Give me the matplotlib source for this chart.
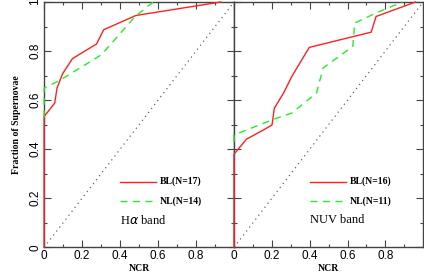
import matplotlib
matplotlib.use("Agg")
import matplotlib.pyplot as plt
from matplotlib.ticker import MultipleLocator

# Halpha band
ha_bl_x = [0.0, 0.0, 0.056, 0.068, 0.097, 0.149, 0.276, 0.314, 0.483, 0.93]
ha_bl_y = [0.0, 0.533, 0.588, 0.649, 0.707, 0.769, 0.829, 0.887, 0.945, 1.0]
ha_nl_x = [0.0, 0.0, 0.079, 0.302, 0.477, 0.574]
ha_nl_y = [0.53, 0.649, 0.679, 0.785, 0.939, 1.0]
# NUV band
nuv_bl_x = [0.0, 0.0, 0.066, 0.157, 0.201, 0.213, 0.262, 0.305, 0.398, 0.725, 0.751, 0.96]
nuv_bl_y = [0.0, 0.38, 0.441, 0.479, 0.499, 0.567, 0.629, 0.696, 0.815, 0.877, 0.941, 1.0]
nuv_nl_x = [0.0, 0.0, 0.209, 0.305, 0.436, 0.471, 0.628, 0.634, 0.637, 0.751, 0.89]
nuv_nl_y = [0.43, 0.458, 0.522, 0.547, 0.629, 0.731, 0.819, 0.873, 0.914, 0.955, 1.0]

labels_ha = ["BL(N=17)", "NL(N=14)", r"H$\alpha$ band"]
labels_nuv = ["BL(N=16)", "NL(N=11)", "NUV band"]
xticks = [0, 0.2, 0.4, 0.6, 0.8]
xticklabels = ["0", "0.2", "0.4", "0.6", "0.8"]
yticks = [0, 0.2, 0.4, 0.6, 0.8, 1.0]
yticklabels = ["0", "0.2", "0.4", "0.6", "0.8", "1"]

RED = "#ff2020"
GREEN = "#22ee22"
SPINE = "#444444"

fig = plt.figure(figsize=(4.24, 2.74), dpi=100)
axL = fig.add_axes([0.104, 0.0974, 0.448, 0.8953])
axR = fig.add_axes([0.552, 0.0974, 0.446, 0.8953])

serif = "Liberation Serif"
sans = "Liberation Sans"

def setup(ax, data, labels, showy):
    bx, by, nx, ny = data
    ax.plot([0, 1], [0, 1], color="#666666", lw=0.9, ls=(0, (1, 3)))
    ax.plot(bx, by, color=RED, lw=1.0, zorder=4, clip_on=False)
    ax.plot(nx, ny, color=GREEN, lw=1.0, ls=(0, (5, 4)), zorder=4, clip_on=False)
    ax.set_xlim(0, 1)
    ax.set_ylim(0, 1)
    ax.set_xticks(xticks)
    ax.set_xticklabels(xticklabels, fontfamily=sans, fontsize=8.5)
    ax.set_yticks(yticks)
    if showy:
        ax.set_yticklabels(yticklabels, fontfamily=sans, fontsize=8.5, rotation=90, va="center")
    else:
        ax.set_yticklabels([])
    ax.xaxis.set_minor_locator(MultipleLocator(0.1))
    ax.yaxis.set_minor_locator(MultipleLocator(0.1))
    ax.tick_params(which="both", direction="in", top=True, right=True, color=SPINE, width=0.8, pad=2)
    ax.tick_params(which="major", length=5)
    ax.tick_params(which="minor", length=2.5)
    for s in ax.spines.values():
        s.set_color(SPINE)
        s.set_linewidth(1.0)
    ax.set_xlabel("NCR", fontfamily=serif, fontweight="bold", fontsize=7, labelpad=1.5)
    # legend
    ax.plot([0.40, 0.59], [0.268, 0.268], color=RED, lw=1.0)
    ax.plot([0.40, 0.59], [0.19, 0.19], color=GREEN, lw=1.0, ls=(0, (5, 4)))
    ax.text(0.61, 0.268, labels[0], fontfamily=serif, fontweight="bold", fontsize=7, va="center")
    ax.text(0.61, 0.19, labels[1], fontfamily=serif, fontweight="bold", fontsize=7, va="center")
    ax.text(0.40, 0.111, labels[2], fontfamily=serif, fontsize=9, va="center")

setup(axL, (ha_bl_x, ha_bl_y, ha_nl_x, ha_nl_y), labels_ha, True)
setup(axR, (nuv_bl_x, nuv_bl_y, nuv_nl_x, nuv_nl_y), labels_nuv, False)
axL.set_ylabel("Fraction of Supernovae", fontfamily=serif, fontweight="bold", fontsize=7, labelpad=6)

fig.savefig("out.png", dpi=100)
